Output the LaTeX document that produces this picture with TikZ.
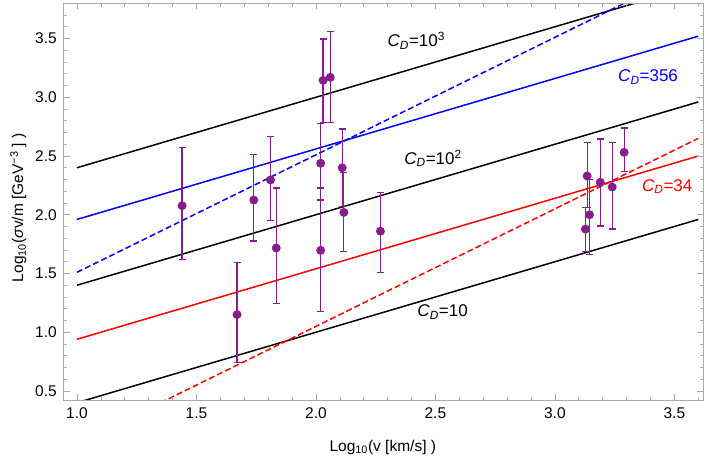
\documentclass[tikz,border=0pt]{standalone}
\usepackage{fontspec}
\setmainfont{Liberation Sans}
\definecolor{pur}{RGB}{135,30,140}
\definecolor{fr}{RGB}{170,170,170}
\tikzset{
  curve/.style={line width=1.5pt},
  dsh/.style={curve,dash pattern=on 6pt off 3pt},
  lab/.style={font=\fontsize{17}{19}\selectfont},
  tk/.style={font=\fontsize{15.5}{17}\selectfont},
  eb/.style={pur,line width=1.2pt},
}
\newcommand{\CD}{\textit{C}\textsubscript{\textit{D}}}
\newcommand{\errpt}[4]{% v y top bottom
  \draw[eb] (#1,#4) -- (#1,#3);
  \draw[eb] ([xshift=-3.5pt]#1,#3) -- ([xshift=3.5pt]#1,#3);
  \draw[eb] ([xshift=-3.5pt]#1,#4) -- ([xshift=3.5pt]#1,#4);
  \fill[pur] (#1,#2) circle (4.5pt);}
\begin{document}
\begin{tikzpicture}[x=239pt,y=117.5pt]
\useasboundingbox (0.678,-0.062) rectangle (3.645,3.828);
\begin{scope}
\clip (0.945,0.42) rectangle (3.62,3.80);
\draw[curve] (1,2.4) -- (3.6,3.96);
\draw[curve] (1,1.4) -- (3.6,2.96);
\draw[curve] (1,0.4) -- (3.6,1.96);
\draw[curve,blue] (1,1.96) -- (3.6,3.52);
\draw[curve,red] (1,0.94) -- (3.6,2.50);
\draw[dsh,blue] (1,1.51) -- (3.6,4.11);
\draw[dsh,red] (1.35,0.40) -- (3.6,2.65);
\errpt{1.44}{2.077}{2.57}{1.62}
\errpt{1.67}{1.15}{1.595}{0.744}
\errpt{1.74}{2.125}{2.51}{1.776}
\errpt{1.81}{2.296}{2.664}{1.953}
\errpt{1.834}{1.717}{2.228}{1.246}
\errpt{2.02}{2.438}{2.78}{2.125}
\errpt{2.02}{1.697}{2.228}{1.178}
\errpt{2.03}{3.144}{3.496}{2.787}
\errpt{2.06}{3.17}{3.56}{2.787}
\errpt{2.11}{2.40}{2.73}{2.07}
\errpt{2.117}{2.02}{2.36}{1.689}
\errpt{2.27}{1.86}{2.19}{1.507}
\errpt{3.135}{2.33}{2.617}{2.06}
\errpt{3.128}{1.878}{2.06}{1.69}
\errpt{3.145}{2.0}{2.30}{1.66}
\errpt{3.19}{2.276}{2.645}{1.904}
\errpt{3.24}{2.236}{2.617}{1.879}
\errpt{3.29}{2.531}{2.738}{2.37}
\end{scope}
\draw[fr,line width=0.8pt] (0.945,0.42) rectangle (3.62,3.80);
\foreach \i in {10,...,36}{
  \pgfmathsetmacro\v{\i/10}
  \pgfmathsetmacro\L{mod(\i,5)==0 ? 6 : 3.5}
  \draw[fr,line width=0.6pt] (\v,0.42) -- ++(0,\L pt);
  \draw[fr,line width=0.6pt] (\v,3.80) -- ++(0,-\L pt);}
\foreach \i in {5,...,37}{
  \pgfmathsetmacro\v{\i/10}
  \pgfmathsetmacro\L{mod(\i,5)==0 ? 6 : 3.5}
  \draw[fr,line width=0.6pt] (0.945,\v) -- ++(\L pt,0);
  \draw[fr,line width=0.6pt] (3.62,\v) -- ++(-\L pt,0);}
\foreach \v in {1.0,1.5,2.0,2.5,3.0,3.5}
  \node[tk,below] (x\v) at (\v,0.39) {\v};
\foreach \v in {0.5,1.0,1.5,2.0,2.5,3.0,3.5}
  \node[tk,left] (y\v) at (0.93,\v) {\v};
\node[tk] (xl) at (2.28,0.02) {Log\textsubscript{10}(v [km/s] )};
\node[tk,rotate=90] (yl) at (0.755,2.06) {Log\textsubscript{10}(\textit{σ}v/m [GeV\textsuperscript{−3} ] )};
\node[lab] (l1) at (2.42,3.48) {\CD=10\textsuperscript{3}};
\node[lab,text=blue] (l2) at (3.39,3.17) {\CD=356};
\node[lab] (l3) at (2.49,2.48) {\CD=10\textsuperscript{2}};
\node[lab,text=red] (l4) at (3.47,2.24) {\CD=34};
\node[lab] (l5) at (2.53,1.17) {\CD=10};
\end{tikzpicture}
\end{document}
